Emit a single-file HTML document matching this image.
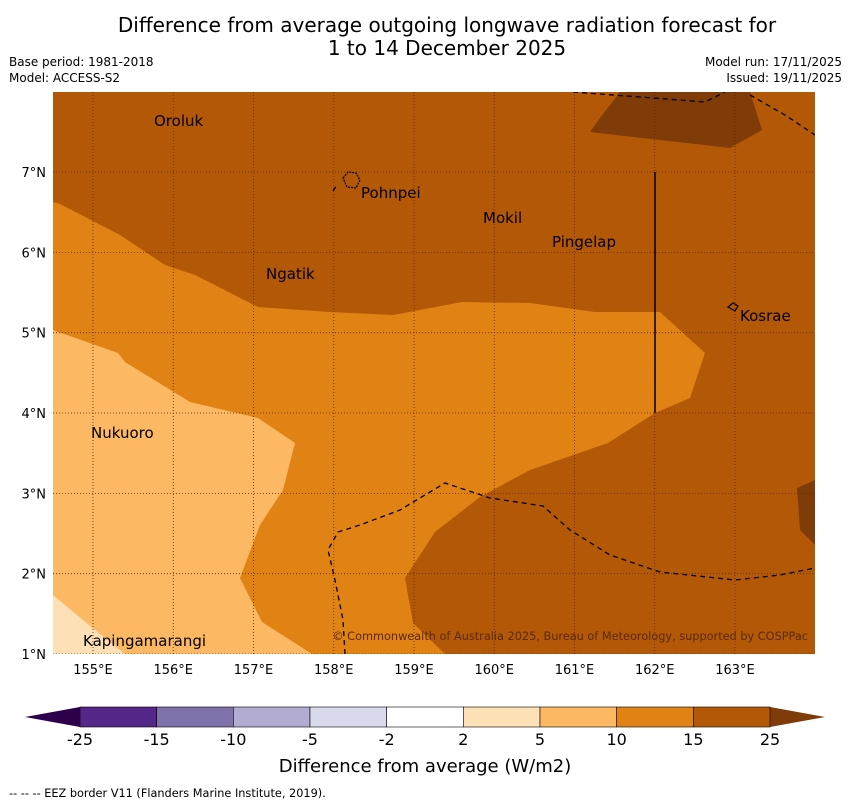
<!DOCTYPE html>
<html><head><meta charset="utf-8">
<style>
body{margin:0;background:#fff;font-family:"Liberation Sans","DejaVu Sans",sans-serif;}
#wrap{position:relative;width:850px;height:804px;overflow:hidden;}
.t{position:absolute;white-space:nowrap;}
</style></head>
<body>
<div id="wrap">
<div class="t" style="left:0;width:894px;top:14px;text-align:center;font-size:20px;line-height:23px;font-family:'DejaVu Sans',sans-serif;">Difference from average outgoing longwave radiation forecast for<br>1 to 14 December 2025</div>
<div class="t" style="left:9px;top:55px;font-size:12px;font-family:'DejaVu Sans',sans-serif;">Base period: 1981-2018</div>
<div class="t" style="left:9px;top:71px;font-size:12px;font-family:'DejaVu Sans',sans-serif;">Model: ACCESS-S2</div>
<div class="t" style="right:8px;top:55px;font-size:12px;font-family:'DejaVu Sans',sans-serif;text-align:right;">Model run: 17/11/2025</div>
<div class="t" style="right:8px;top:71px;font-size:12px;font-family:'DejaVu Sans',sans-serif;text-align:right;">Issued: 19/11/2025</div>
<svg id="svg" width="850" height="804" style="position:absolute;left:0;top:0" font-family="DejaVu Sans, sans-serif">
<defs><clipPath id="mc"><rect x="53" y="92" width="762" height="562"/></clipPath></defs>
<g clip-path="url(#mc)">
<rect x="53" y="92" width="762" height="562" fill="#b35806"/>
<polygon fill="#e08214" points="53,202 60,204 120,235 165,265 195,275 258,307 330,312 393,315 462,302 530,303 595,312 660,312 705,353 690,398 655,413 608,443 530,470 480,497 435,532 405,578 413,623 445,654 53,654"/>
<polygon fill="#fdb863" points="53,330 118,353 125,362 190,402 258,418 295,443 283,490 260,525 240,578 262,622 312,654 53,654"/>
<polygon fill="#fee0b6" points="53,595 65,605 95,630 125,654 53,654"/>
<polygon fill="#7f3b08" points="620,92 750,92 762,130 730,148 590,132 600,118"/>
<polygon fill="#7f3b08" points="797,488 815,480 815,545 800,530"/>
<g id="grid" stroke="#5a2a04" stroke-width="0.8" stroke-dasharray="1,2"></g>
<line x1="655" y1="172" x2="655" y2="413" stroke="#000" stroke-width="1.5"/>
<g fill="none" stroke="#000" stroke-width="1.3" stroke-dasharray="5,4">
<polyline points="573,92 640,97 705,102 725,92"/>
<polyline points="750,95 785,115 815,135"/>
<polyline points="345,654 343,620 335,580 328,550 338,532 360,525 400,510 445,483 490,498 543,506 570,530 610,555 660,572 735,580 780,575 815,568"/>
<polyline points="333,191 337,185"/>
</g>
<path d="M343,178 L348,172 L356,173 L360,180 L356,188 L347,187 Z" fill="none" stroke="#000" stroke-width="1.2" stroke-dasharray="2,1"/>
<path d="M728,307 L733,303 L738,306 L735,311 Z" fill="none" stroke="#000" stroke-width="1.2"/>
</g>
<g font-size="15" fill="#000">
<text x="154" y="126">Oroluk</text>
<text x="361" y="198">Pohnpei</text>
<text x="483" y="223">Mokil</text>
<text x="552" y="247">Pingelap</text>
<text x="266" y="279">Ngatik</text>
<text x="740" y="321">Kosrae</text>
<text x="91" y="438">Nukuoro</text>
<text x="83" y="646">Kapingamarangi</text>
</g>
<text x="808" y="640" text-anchor="end" font-size="11.3" fill="#5a2a04">© Commonwealth of Australia 2025, Bureau of Meteorology, supported by COSPPac</text>
<g id="axes" font-size="13"></g>
<g id="cbar"></g>
<text x="425" y="772" text-anchor="middle" font-size="18">Difference from average (W/m2)</text>
<text x="9" y="797" font-size="11.3">--  --  -- EEZ border V11 (Flanders Marine Institute, 2019).</text>
</svg>
</div>
<script>
const lonTicks=[155,156,157,158,159,160,161,162,163];
const latTicks=[1,2,3,4,5,6,7];
const cbarLabels=["-25","-15","-10","-5","-2","2","5","10","15","25"];
const cbarColors=["#542788","#8073ac","#b2abd2","#d8daeb","#ffffff","#fee0b6","#fdb863","#e08214","#b35806"];
const NS="http://www.w3.org/2000/svg";
const xL=lon=>93+(lon-155)*80.25, yL=lat=>654-(lat-1)*80.33;
function mk(t,a,p){const e=document.createElementNS(NS,t);for(const k in a)e.setAttribute(k,a[k]);p.appendChild(e);return e;}
const grid=document.getElementById('grid'),axes=document.getElementById('axes'),cb=document.getElementById('cbar');
lonTicks.forEach(l=>{const x=xL(l);
 const g=mk('line',{x1:x,y1:92,x2:x,y2:654},grid);
 
 const t=mk('text',{x:x,y:674,'text-anchor':'middle'},axes);t.textContent=l+'°E';
 });
latTicks.forEach(l=>{const y=yL(l);
 const g=mk('line',{x1:53,y1:y,x2:815,y2:y},grid);
 
 const t=mk('text',{x:46,y:y+5,'text-anchor':'end'},axes);t.textContent=l+'°N';
 });
const x0=80,x1=770,w=(x1-x0)/cbarColors.length,y0=707,h=20;
const lt=mk('polygon',{points:`25,717 ${x0},${y0} ${x0},${y0+h}`,fill:'#2d004b'},cb);

const rt=mk('polygon',{points:`825,717 ${x1},${y0} ${x1},${y0+h}`,fill:'#7f3b08'},cb);

cbarColors.forEach((c,i)=>{const r=mk('rect',{x:x0+i*w,y:y0,width:w,height:h,fill:c,stroke:'#000','stroke-width':0.6},cb);
 });
cbarLabels.forEach((s,i)=>{const t=mk('text',{x:x0+i*w,y:745,'text-anchor':'middle','font-size':16},cb);t.textContent=s;
 });
</script>
</body></html>
